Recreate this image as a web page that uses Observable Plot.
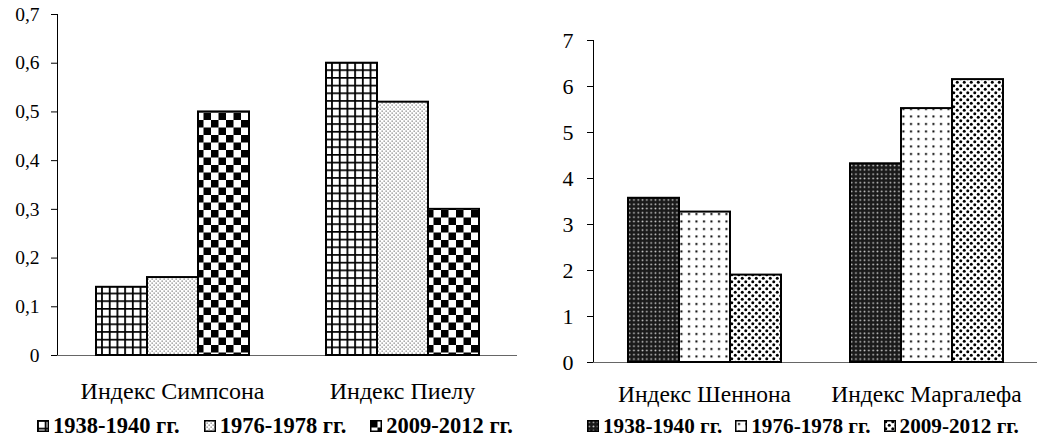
<!DOCTYPE html>
<html><head><meta charset="utf-8">
<script src="https://cdn.jsdelivr.net/npm/d3@7"></script>
<script src="https://cdn.jsdelivr.net/npm/@observablehq/plot@0.6"></script>
<style>
body{margin:0;background:#fff;}
#wrap{position:relative;width:1038px;height:439px;overflow:hidden;}
.col{position:absolute;top:0;}
.legend{position:absolute;top:414px;height:24px;line-height:24px;display:flex;align-items:center;font-weight:bold;white-space:nowrap;color:#000;}
.legend .item{display:flex;align-items:center;}
.legend svg{margin-right:4px;}
#wrap, #wrap *, #wrap svg text{font-family:'Liberation Serif', serif !important;}
</style></head><body>
<svg width="0" height="0" style="position:absolute">
  <defs>
    <pattern id="grid" patternUnits="userSpaceOnUse" width="7.7" height="7.7">
      <rect width="7.7" height="7.7" fill="#fff"/>
      <path d="M0 0.9H7.7M0.9 0V7.7" stroke="#000" stroke-width="1.8"/>
    </pattern>
    <pattern id="stipple" patternUnits="userSpaceOnUse" width="4" height="4">
      <rect width="4" height="4" fill="#fff"/>
      <rect x="0.5" y="0.5" width="1.3" height="1.3" fill="#808080"/>
      <rect x="2.5" y="2.5" width="1.3" height="1.3" fill="#808080"/>
    </pattern>
    <pattern id="checker" patternUnits="userSpaceOnUse" width="15" height="15">
      <rect width="15" height="15" fill="#fff"/>
      <rect x="0" y="0" width="7.5" height="7.5" fill="#000"/>
      <rect x="7.5" y="7.5" width="7.5" height="7.5" fill="#000"/>
    </pattern>
    <pattern id="darkdots" patternUnits="userSpaceOnUse" width="4.3" height="4.3">
      <rect width="4.3" height="4.3" fill="#1a1a1a"/>
      <circle cx="2.15" cy="2.15" r="0.9" fill="#cfcfcf"/>
    </pattern>
    <pattern id="sparsedots" patternUnits="userSpaceOnUse" width="7.5" height="7.5">
      <rect width="7.5" height="7.5" fill="#fff"/>
      <rect x="3" y="3" width="2" height="2" fill="#000"/>
    </pattern>
    <pattern id="densedots" patternUnits="userSpaceOnUse" width="7" height="7">
      <rect width="7" height="7" fill="#fff"/>
      <circle cx="1.75" cy="1.75" r="1.5" fill="#000"/>
      <circle cx="5.25" cy="5.25" r="1.5" fill="#000"/>
    </pattern>
  </defs>
</svg>
<div id="wrap">
  <div class="col" id="left" style="left:0"></div>
  <div class="col" id="right" style="left:520px"></div>
  <div class="legend" id="legL" style="left:37px;font-size:22.5px"></div>
  <div class="legend" id="legR" style="left:587px;font-size:21.2px"></div>
</div>
<script>
// ---- data ----
const seriesLabels = ["1938-1940 гг.", "1976-1978 гг.", "2009-2012 гг."];
const leftCategories = ["Индекс Симпсона", "Индекс Пиелу"];
const simpsonValues = [0.14, 0.16, 0.5];
const pieluValues = [0.6, 0.52, 0.3];
const leftTicks = [0, 0.1, 0.2, 0.3, 0.4, 0.5, 0.6, 0.7];
const rightCategories = ["Индекс Шеннона", "Индекс Маргалефа"];
const shannonValues = [3.57, 3.27, 1.9];
const margalefValues = [4.32, 5.52, 6.15];
const rightTicks = [0, 1, 2, 3, 4, 5, 6, 7];
const leftPatterns = ["url(#grid)", "url(#stipple)", "url(#checker)"];
const rightPatterns = ["url(#darkdots)", "url(#sparsedots)", "url(#densedots)"];

function chart(o) {
  const data = o.categories.flatMap((c, i) =>
    o.values[i].map((v, j) => ({category: c, series: seriesLabels[j], value: v})));
  const p = Plot.plot({
    width: o.width, height: 410,
    marginLeft: o.marginLeft, marginRight: o.marginRight,
    marginTop: o.marginTop, marginBottom: 410 - o.zeroY,
    style: `font-family:'Liberation Serif';font-size:${o.catSize}px;color:#000;background:transparent;overflow:visible;`,
    fx: {domain: o.categories, padding: 0, label: null, tickSize: 0, tickPadding: o.fxPad, axis: "bottom"},
    x: {domain: seriesLabels, paddingInner: 0, paddingOuter: o.xPadOuter, axis: null},
    y: {domain: [0, o.ticks[o.ticks.length - 1]], ticks: o.ticks, tickFormat: o.fmt, tickSize: 6, tickPadding: o.tickPad, label: null, line: true},
    marks: [
      Plot.ruleY([0], {stroke: "#666", strokeWidth: 1}),
      ...seriesLabels.map((s, j) =>
        Plot.barY(data.filter(d => d.series === s), {
          fx: "category", x: "series", y: "value",
          fill: o.patterns[j], stroke: "#000", strokeWidth: 2
        }))
    ]
  });
  p.querySelectorAll('[aria-label="y-axis tick label"]').forEach(el => {
    el.setAttribute("font-size", o.ytickSize);
    el.style.fontSize = o.ytickSize + "px";
  });
  return p;
}

document.getElementById("left").append(chart({
  categories: leftCategories, values: [simpsonValues, pieluValues], ticks: leftTicks,
  fmt: d => d === 0 ? "0" : d3.format(".1f")(d).replace(".", ","),
  patterns: leftPatterns, width: 520, marginLeft: 56, marginRight: 3, marginTop: 14, zeroY: 355,
  fxPad: 26, xPadOuter: 0.73, tickPad: 12, ytickSize: 19.5, catSize: 24
}));
document.getElementById("right").append(chart({
  categories: rightCategories, values: [shannonValues, margalefValues], ticks: rightTicks,
  fmt: d => String(d),
  patterns: rightPatterns, width: 518, marginLeft: 73, marginRight: 1, marginTop: 40, zeroY: 362,
  fxPad: 23, xPadOuter: 0.675, tickPad: 14, ytickSize: 22, catSize: 23.5
}));

function legend(el, patterns, gap) {
  seriesLabels.forEach((s, j) => {
    const item = document.createElement("div");
    item.className = "item";
    if (j > 0) item.style.marginLeft = gap + "px";
    const ns = "http://www.w3.org/2000/svg";
    const sv = document.createElementNS(ns, "svg");
    sv.setAttribute("width", 12); sv.setAttribute("height", 12);
    const r = document.createElementNS(ns, "rect");
    r.setAttribute("x", 0.75); r.setAttribute("y", 0.75);
    r.setAttribute("width", 10.5); r.setAttribute("height", 10.5);
    r.setAttribute("fill", patterns[j]); r.setAttribute("stroke", "#000"); r.setAttribute("stroke-width", 1.5);
    sv.append(r);
    const t = document.createElement("span");
    t.textContent = s;
    item.append(sv, t);
    el.append(item);
  });
}
legend(document.getElementById("legL"), leftPatterns, 24);
legend(document.getElementById("legR"), rightPatterns, 13);
</script>
</body></html>
